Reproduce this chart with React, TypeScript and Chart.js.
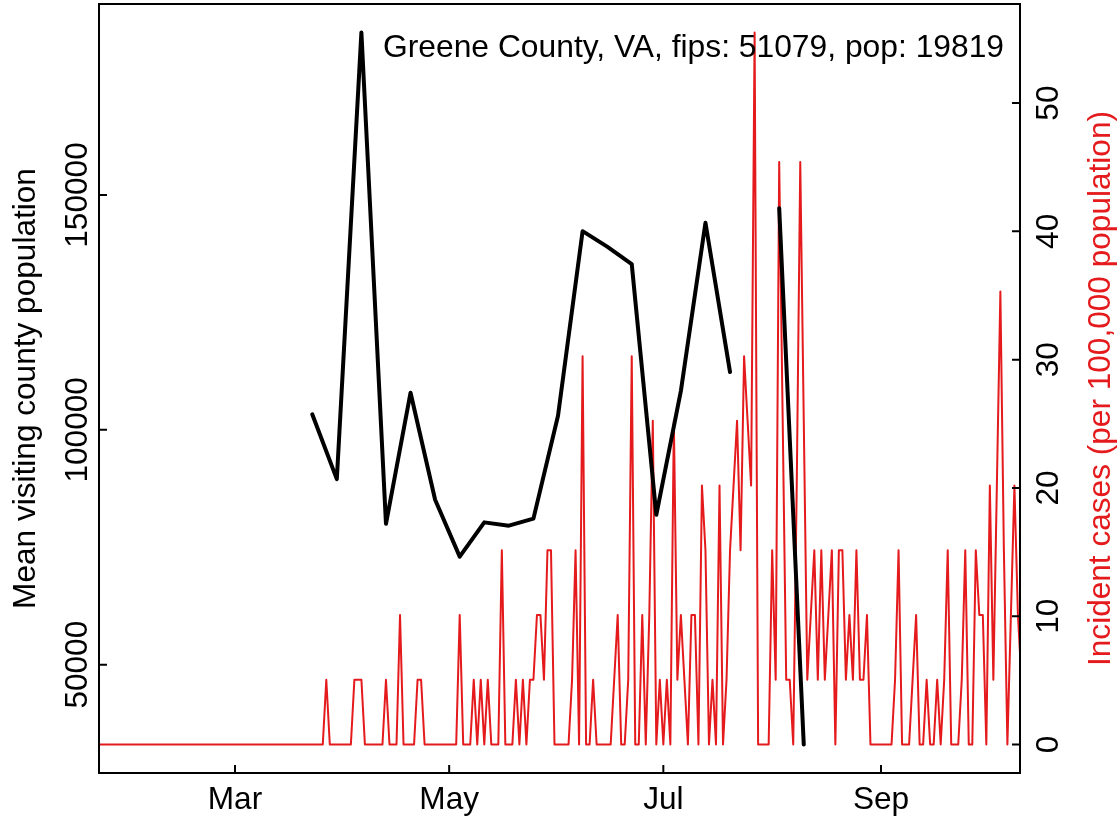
import React, { useEffect, useRef } from "react";
import { Chart, registerables } from "chart.js";

Chart.register(...registerables);

// ---- Data ----
const COUNTY_TITLE = "Greene County, VA, fips: 51079, pop: 19819";
const POPULATION = 19819;

// Daily new cases (count), 2020; day index 0 = Mar 1
const FIRST_DAY = -39; // Jan 22
const casesJan = [0, 0, 0, 0, 0, 0, 0, 0, 0, 0];
const casesFeb = [0, 0, 0, 0, 0, 0, 0, 0, 0, 0, 0, 0, 0, 0, 0, 0, 0, 0, 0, 0, 0, 0, 0, 0, 0, 0, 0, 0, 0];
const casesMar = [0, 0, 0, 0, 0, 0, 0, 0, 0, 0, 0, 0, 0, 0, 0, 0, 0, 0, 0, 0, 0, 0, 0, 0, 0, 0, 1, 0, 0, 0, 0];
const casesApr = [0, 0, 0, 1, 1, 1, 0, 0, 0, 0, 0, 0, 1, 0, 0, 0, 2, 0, 0, 0, 0, 1, 1, 0, 0, 0, 0, 0, 0, 0];
const casesMay = [0, 0, 0, 2, 0, 0, 0, 1, 0, 1, 0, 1, 0, 0, 0, 3, 0, 0, 0, 1, 0, 1, 0, 1, 1, 2, 2, 1, 3, 3, 0];
const casesJun = [0, 0, 0, 0, 1, 3, 0, 6, 0, 0, 1, 0, 0, 0, 0, 0, 1, 2, 0, 0, 1, 6, 0, 0, 2, 0, 2, 5, 0, 1];
const casesJul = [0, 1, 0, 5, 1, 2, 1, 0, 2, 2, 0, 4, 3, 0, 1, 0, 4, 0, 1, 3, 4, 5, 3, 6, 5, 4, 11, 0, 0, 0, 0];
const casesAug = [3, 1, 9, 5, 1, 1, 0, 4, 9, 5, 1, 2, 3, 1, 3, 1, 2, 3, 0, 3, 3, 1, 2, 1, 3, 1, 1, 2, 0, 0, 0];
const casesSep = [0, 0, 0, 0, 1, 3, 0, 0, 0, 1, 2, 0, 0, 1, 0, 0, 1, 0, 1, 3, 0, 0, 0, 1, 3, 0, 0, 3, 2, 2];
const casesOct = [0, 4, 1, 4, 7, 3, 0, 2, 4, 2, 1];

// Weekly mean visiting county population (day index from Mar 1)
const visitDays = [22, 29, 36, 43, 50, 57, 64, 71, 78, 85, 92, 99, 106, 113, 120, 127, 134, 141, 148, 155, 162];
const visitValues = [
  103300, 89500, 184600, 80000, 107900, 85100, 73000, 80300, 79600, 81100, 103000,
  142300, 139000, 135300, 81900, 108300, 144100, 112300, null, 147200, 33000,
];

// Axis ticks
const xTickDays = [0, 61, 122, 184];
const xTickLabels = ["Mar", "May", "Jul", "Sep"];
const leftTicks = [50000, 100000, 150000];
const rightTicks = [0, 10, 20, 30, 40, 50];
const X_MIN = -38.74;
const X_MAX = 223.59;

const RED = "#E41A1C";
const FONT = '"Liberation Sans", Arial, Helvetica, sans-serif';
const FS = 31.6;
const TITLE_FS = 31.8;

function pad4(values: number[]) {
  const lo = Math.min(...values);
  const hi = Math.max(...values);
  const r = hi - lo;
  return [lo - 0.04 * r, hi + 0.04 * r];
}

const rAxesPlugin = {
  id: "rAxes",
  afterDraw(chart: any) {
    const { ctx, chartArea: ca, scales } = chart;
    const xs = scales.x;
    const yl = scales.y;
    const yr = scales.y1;
    ctx.save();
    ctx.strokeStyle = "#000";
    ctx.lineWidth = 2;
    ctx.strokeRect(ca.left, ca.top, ca.right - ca.left, ca.bottom - ca.top);
    ctx.beginPath();
    xTickDays.forEach((d) => {
      const px = xs.getPixelForValue(d);
      ctx.moveTo(px, ca.bottom);
      ctx.lineTo(px, ca.bottom - 8);
    });
    leftTicks.forEach((v) => {
      const py = yl.getPixelForValue(v);
      ctx.moveTo(ca.left, py);
      ctx.lineTo(ca.left + 8, py);
    });
    rightTicks.forEach((v) => {
      const py = yr.getPixelForValue(v);
      ctx.moveTo(ca.right, py);
      ctx.lineTo(ca.right - 8, py);
    });
    ctx.stroke();

    ctx.font = `${FS}px ${FONT}`;
    ctx.fillStyle = "#000";
    ctx.textAlign = "center";
    ctx.textBaseline = "alphabetic";
    xTickDays.forEach((d, i) => {
      ctx.fillText(xTickLabels[i], xs.getPixelForValue(d), ca.bottom + 36);
    });
    const rot = (text: string, px: number, py: number, color: string) => {
      ctx.save();
      ctx.translate(px, py);
      ctx.rotate(-Math.PI / 2);
      ctx.fillStyle = color;
      ctx.textAlign = "center";
      ctx.fillText(text, 0, 0);
      ctx.restore();
    };
    leftTicks.forEach((v) => rot(String(v), ca.left - 12, yl.getPixelForValue(v), "#000"));
    rightTicks.forEach((v) => rot(String(v), ca.right + 38, yr.getPixelForValue(v), "#000"));
    const midY = (ca.top + ca.bottom) / 2;
    rot("Mean visiting county population", 34.7, midY, "#000");
    rot("Incident cases (per 100,000 population)", 1110, midY, RED);
    ctx.font = `${TITLE_FS}px ${FONT}`;
    ctx.textAlign = "left";
    ctx.fillStyle = "#000";
    ctx.fillText(COUNTY_TITLE, 383, 57);
    ctx.restore();
  },
};

export default function App() {
  const canvasRef = useRef<HTMLCanvasElement | null>(null);

  useEffect(() => {
    const canvas = canvasRef.current;
    if (!canvas) return;
    const dailyCases = [
      ...casesJan, ...casesFeb, ...casesMar, ...casesApr, ...casesMay,
      ...casesJun, ...casesJul, ...casesAug, ...casesSep, ...casesOct,
    ];
    const incidence = dailyCases.map((c, i) => ({ x: FIRST_DAY + i, y: (c * 100000) / POPULATION }));
    const visits = visitDays.map((d, i) => ({ x: d, y: visitValues[i] }));
    const [yMin, yMax] = pad4(visitValues.filter((v) => v !== null) as number[]);
    const [y1Min, y1Max] = pad4(incidence.map((p) => p.y));

    const chart = new Chart(canvas, {
      type: "line",
      data: {
        datasets: [
          {
            label: "visits",
            data: visits as any,
            yAxisID: "y",
            borderColor: "#000",
            borderWidth: 4,
            pointRadius: 0,
            spanGaps: false,
            tension: 0,
            borderJoinStyle: "round",
            borderCapStyle: "round",
          },
          {
            label: "incidence",
            data: incidence as any,
            yAxisID: "y1",
            borderColor: RED,
            borderWidth: 2,
            pointRadius: 0,
            tension: 0,
            borderJoinStyle: "round",
            borderCapStyle: "round",
          },
        ],
      },
      options: {
        animation: false,
        responsive: false,
        devicePixelRatio: 1,
        parsing: { xAxisKey: "x", yAxisKey: "y" } as any,
        layout: { padding: { top: 4, left: 0, right: 0, bottom: 0 } },
        plugins: { legend: { display: false }, tooltip: { enabled: false }, title: { display: false } },
        scales: {
          x: {
            type: "linear",
            position: "bottom",
            min: X_MIN,
            max: X_MAX,
            grid: { display: false },
            border: { display: false },
            ticks: { display: false },
            afterFit: (s: any) => { s.height = 49; },
          },
          y: {
            type: "linear",
            position: "left",
            min: yMin,
            max: yMax,
            grid: { display: false },
            border: { display: false },
            ticks: { display: false },
            afterFit: (s: any) => { s.width = 99; },
          },
          y1: {
            type: "linear",
            position: "right",
            min: y1Min,
            max: y1Max,
            grid: { display: false },
            border: { display: false },
            ticks: { display: false },
            afterFit: (s: any) => { s.width = 99; },
          },
        },
      },
      plugins: [rAxesPlugin],
    });
    return () => chart.destroy();
  }, []);

  return (
    <div style={{ position: "absolute", left: 0, top: 0, width: 1119, height: 822, background: "#fff" }}>
      <canvas ref={canvasRef} width={1119} height={822} style={{ display: "block" }} />
    </div>
  );
}
